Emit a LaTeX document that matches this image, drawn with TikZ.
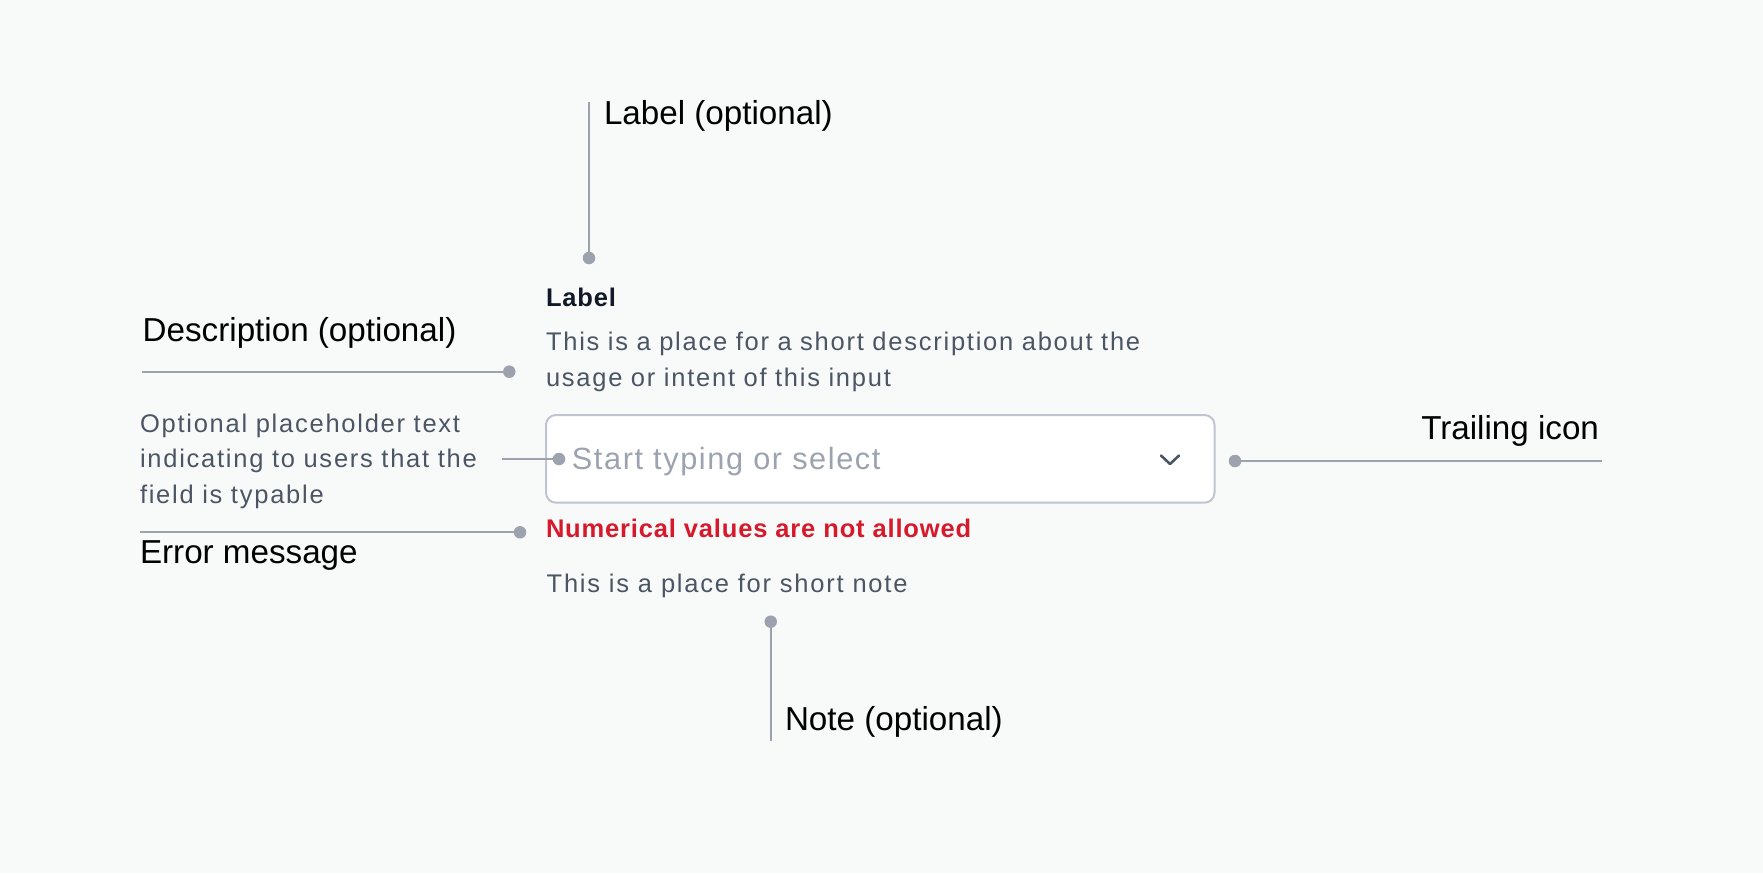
\documentclass[tikz,border=0pt]{standalone}
\usepackage{fontspec}
\setmainfont{Liberation Sans}
\newfontfamily\uifont[LetterSpace=6.9]{Liberation Sans}
\newfontfamily\uiboldfont[LetterSpace=3.3]{Liberation Sans}
\newfontfamily\phfont[LetterSpace=5.2]{Liberation Sans}
\definecolor{bgc}{HTML}{F8FAFA}
\definecolor{leadc}{HTML}{9CA3AF}
\definecolor{uigray}{HTML}{4B5563}
\definecolor{phgray}{HTML}{9CA3AF}
\definecolor{boxc}{HTML}{BFC4CE}
\definecolor{errred}{HTML}{D61A2B}
\definecolor{darkc}{HTML}{111827}
\tikzset{
  ann/.style={anchor=base west, inner sep=0pt, outer sep=0pt, text=black,
    font=\fontsize{33.2}{39}\selectfont},
  uitext/.style={anchor=base west, inner sep=0pt, outer sep=0pt, text=uigray,
    font=\uifont\fontsize{25.5}{36}\selectfont},
  leader/.style={draw=leadc, line width=2pt},
  dotnode/.style={circle, fill=leadc, draw=none, minimum size=12.5pt, inner sep=0pt},
  fieldbox/.style={draw=boxc, line width=2pt, fill=white, rounded corners=10pt,
    anchor=north west, inner sep=0pt},
  chev/.style={draw=uigray, line width=2.6pt, line cap=round, line join=round}
}
\begin{document}
\begin{tikzpicture}[x=1pt,y=-1pt]
\fill[bgc] (0,0) rectangle (1763,873);
\useasboundingbox (0,0) rectangle (1763,873);

% input field
\node[fieldbox, minimum width=668.5pt, minimum height=87.7pt] (field) at (545,414) {};
\node[anchor=base west, inner sep=0pt, text=phgray, font=\phfont\fontsize{30.7}{36}\selectfont] (ph) at (571.7,469) {Start typing or select};
\draw[chev] (1161,455.5) -- (1170,464) -- (1179,455.5);

% UI texts
\node[uitext, text=darkc, font=\uiboldfont\bfseries\fontsize{25.5}{36}\selectfont] (label) at (546,306.7) {Label};
\node[uitext, text width=700pt, align=left] (desc) at (546,350) {This is a place for a short description about the\\usage or intent of this input};
\node[uitext, text=errred, font=\uiboldfont\bfseries\fontsize{25.5}{36}\selectfont] (err) at (546,537.3) {Numerical values are not allowed};
\node[uitext] (note) at (546.7,592.3) {This is a place for short note};
\node[uitext, text width=400pt, align=left, font=\uifont\fontsize{25.5}{35.5}\selectfont] (phdesc) at (140,432.3) {Optional placeholder text\\indicating to users that the\\field is typable};

% annotations
\node[ann] (lblopt) at (604,124.3) {Label (optional)};
\node[ann] (descopt) at (142.7,341.7) {Description (optional)};
\node[ann] (errmsg) at (140,563.3) {Error message};
\node[ann, anchor=base east] (trail) at (1599,439.3) {Trailing icon};
\node[ann] (noteopt) at (785,730) {Note (optional)};

% leader ends
\coordinate (e1) at (589,102);
\coordinate (e2) at (141.7,371.7);
\coordinate (e3) at (501.7,459);
\coordinate (e4) at (1602,461);
\coordinate (e5) at (140,532.3);
\coordinate (e6) at (770.7,740.7);
\node[dotnode] (d1) at (589,258) {};
\node[dotnode] (d2) at (509.3,371.7) {};
\node[dotnode] (d3) at (559,459) {};
\node[dotnode] (d4) at (1235,461) {};
\node[dotnode] (d5) at (520,532.3) {};
\node[dotnode] (d6) at (770.7,621.7) {};
\draw[leader] (e1) -- (d1.center);
\draw[leader] (e2) -- (d2.center);
\draw[leader] (e3) -- (d3.center);
\draw[leader] (d4.center) -- (e4);
\draw[leader] (e5) -- (d5.center);
\draw[leader] (d6.center) -- (e6);
\end{tikzpicture}
\end{document}
